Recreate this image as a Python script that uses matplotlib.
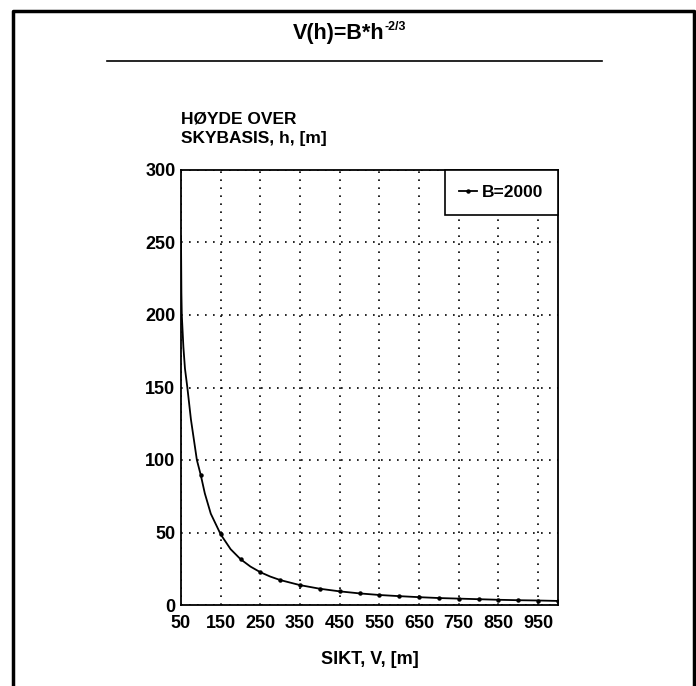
import matplotlib.pyplot as plt
from matplotlib.lines import Line2D

plt.rcParams['font.family'] = ['Liberation Sans', 'DejaVu Sans']
plt.rcParams['font.weight'] = 'bold'

# points marked on the curve
sikt = [100, 150, 200, 250, 300, 350, 400, 450, 500, 550,
        600, 650, 700, 750, 800, 850, 900, 950, 1000]
hoyde = [89.4, 48.7, 31.6, 22.6, 17.2, 13.7, 11.2, 9.4, 8.0, 6.9,
         6.1, 5.4, 4.8, 4.4, 4.0, 3.6, 3.3, 3.1, 2.8]

# extra readings along the drawn (smoothed) curve
curve_v = [50, 51, 52, 56, 60, 66, 75, 90, 100, 110, 125, 150,
           175, 200, 225, 250, 275, 300, 350, 400, 450, 500, 550,
           600, 650, 700, 750, 800, 850, 900, 950, 1000]
curve_h = [253, 215, 200, 178, 163, 150, 128, 100, 89.4, 77, 63, 48.7,
           38.5, 31.6, 26.5, 22.6, 19.6, 17.2, 13.7, 11.2, 9.4, 8.0, 6.9,
           6.1, 5.4, 4.8, 4.4, 4.0, 3.6, 3.3, 3.1, 2.8]

xticks = [50, 150, 250, 350, 450, 550, 650, 750, 850, 950]
yticks = [0, 50, 100, 150, 200, 250, 300]

fig = plt.figure(figsize=(6.96, 6.86), dpi=100)
ax = fig.add_axes([181/696, 1-605/686, (558-181)/696, (605-170)/686])

ax.plot(curve_v, curve_h, color='black', lw=1.3)
ax.plot(sikt, hoyde, ls='none', marker='o', ms=2.2, color='black')
ax.plot([], [], color='black', lw=1.3, marker='o', ms=2.2, label='B=2000')

ax.set_xlim(50, 1000)
ax.set_ylim(0, 300)
ax.set_xticks(xticks)
ax.set_yticks(yticks)
ax.tick_params(length=0, labelsize=13)
ax.tick_params(axis='x', pad=7)
ax.tick_params(axis='y', pad=4)
for lab in ax.get_xticklabels() + ax.get_yticklabels():
    lab.set_fontweight('bold')
ax.grid(True, color='black', ls=(0, (1, 3.8)), lw=1.2)
for s in ax.spines.values():
    s.set_linewidth(1.3)

leg = ax.legend(loc='upper right', fontsize=12.5, handlelength=1.0,
                handletextpad=0.3, fancybox=False, framealpha=1,
                edgecolor='black', borderpad=0.85, borderaxespad=0)
leg.get_frame().set_linewidth(1.2)
for t in leg.get_texts():
    t.set_fontweight('bold')

fig.text(181/696, 1-119/686, 'HØYDE OVER', fontsize=12.5, weight='bold',
         ha='left', va='center')
fig.text(181/696, 1-139/686, 'SKYBASIS, h, [m]', fontsize=12.5, weight='bold',
         ha='left', va='center')
fig.text(370/696, 1-660/686, 'SIKT, V, [m]', fontsize=13, weight='bold',
         ha='center', va='center')
fig.text(384/696, 1-33/686, 'V(h)=B*h', fontsize=15.5, weight='bold',
         ha='right', va='center')
fig.text(385/696, 1-27/686, '-2/3', fontsize=9, weight='bold',
         ha='left', va='center')

# page frame and rule under the title
fig.add_artist(Line2D([13/696, 13/696, 694/696, 694/696],
                      [0, 1-11/686, 1-11/686, 0],
                      transform=fig.transFigure, color='black', lw=2.5))
fig.add_artist(Line2D([107/696, 602/696], [1-61/686, 1-61/686],
                      transform=fig.transFigure, color='black', lw=1.2))

plt.savefig('out.png', dpi=100)
